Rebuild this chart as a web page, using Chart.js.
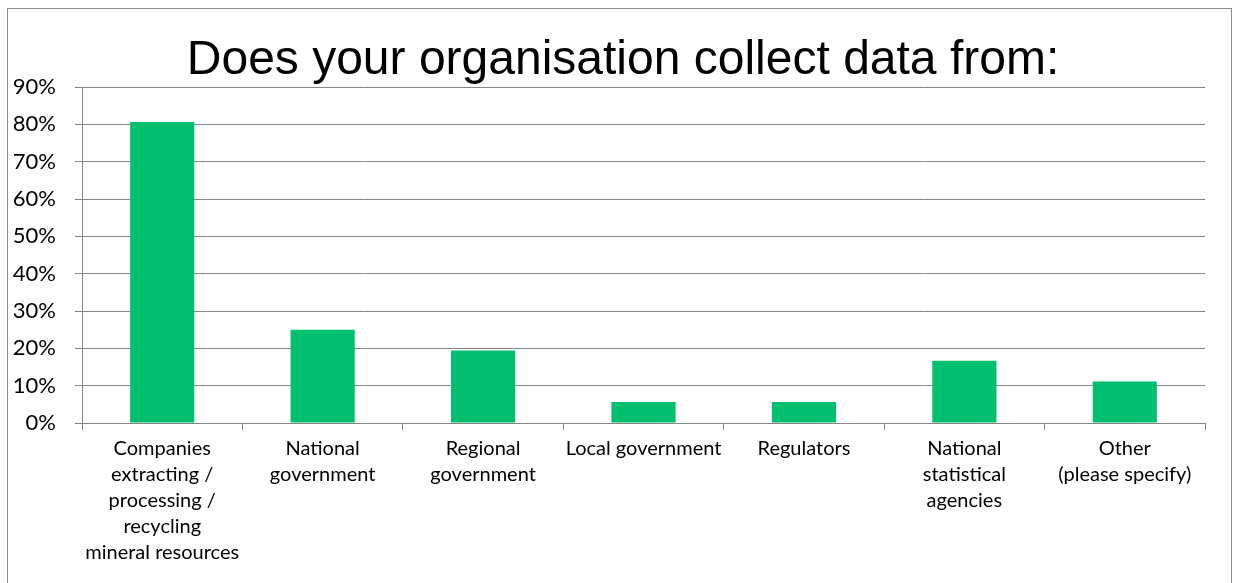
<!DOCTYPE html>
<html>
<head>
<meta charset="utf-8">
<script src="https://cdn.jsdelivr.net/npm/chart.js@4"></script>
<style>
  html, body { margin: 0; padding: 0; background: #fff; }
  #wrap { position: relative; width: 1240px; height: 583px; }
  #frame { position: absolute; left: 7px; top: 8px; width: 1223px; height: 590px; border: 1px solid #8c8c8c; }
  canvas { position: absolute; left: 0; top: 0; }
</style>
</head>
<body>
<div id="wrap">
  <div id="frame"></div>
  <canvas id="grafico" width="1240" height="583"></canvas>
</div>
<script>
const categorias = [
  ["Companies", "extracting /", "processing /", "recycling", "mineral resources"],
  ["National", "government"],
  ["Regional", "government"],
  "Local government",
  "Regulators",
  ["National", "statistical", "agencies"],
  ["Other", "(please specify)"],
];
const valores = [0.806, 0.25, 0.194, 0.056, 0.056, 0.167, 0.111];
const titulo = "Does your organisation collect data from:";

const ctx = document.getElementById("grafico").getContext("2d");
const chart = new Chart(ctx, {
  type: "bar",
  data: {
    labels: categorias,
    datasets: [
      {
        data: valores,
        backgroundColor: "rgb(0, 192, 112)",
        borderWidth: 0,
        barPercentage: 0.4,
        categoryPercentage: 1,
      },
    ],
  },
  options: {
    responsive: false,
    animation: false,
    layout: { padding: { left: 6, right: 0, top: 0, bottom: 0 } },
    plugins: {
      legend: { display: false },
      tooltip: { enabled: false },
      title: {
        display: true,
        text: titulo,
        color: "#000",
        font: { family: "'Liberation Sans', Arial, sans-serif", size: 48, weight: "normal", lineHeight: 1 },
        padding: { top: 37, bottom: 2 },
      },
    },
    scales: {
      x: {
        grid: {
          drawOnChartArea: false,
          drawTicks: true,
          tickLength: 7,
          color: "#868686",
          offset: true,
        },
        border: { color: "#868686", width: 1 },
        ticks: {
          color: "#000",
          font: { family: "Lato, 'Open Sans', sans-serif", size: 20, lineHeight: 1.3 },
          padding: 6,
          maxRotation: 0,
          autoSkip: false,
        },
        afterFit: (scale) => { scale.height = 160; },
      },
      y: {
        min: 0,
        max: 0.9,
        grid: { color: "#868686", tickLength: 7, lineWidth: 1 },
        border: { color: "#868686", width: 1 },
        ticks: {
          stepSize: 0.1,
          color: "#000",
          font: { family: "Lato, 'Open Sans', sans-serif", size: 22 },
          padding: 19,
          callback: (v) => Math.round(v * 100) + "%",
        },
        afterFit: (scale) => { scale.width = 76; },
      },
      margen: {
        position: "right",
        grid: { display: false },
        border: { display: false },
        ticks: { display: false },
        afterFit: (scale) => { scale.width = 35; },
      },
    },
  },
});
</script>
</body>
</html>
